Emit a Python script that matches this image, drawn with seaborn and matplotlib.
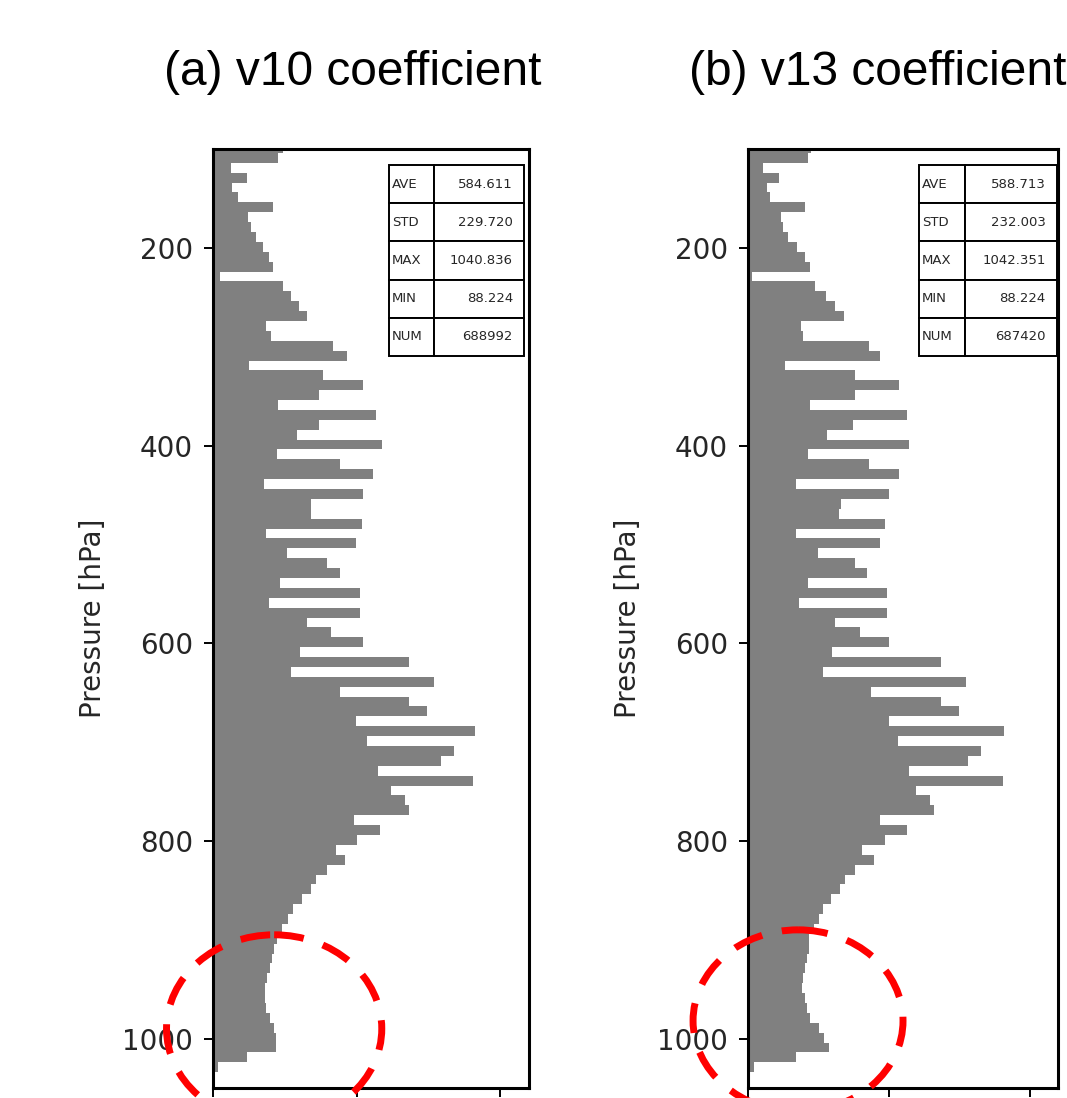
import matplotlib
matplotlib.use("Agg")
import matplotlib.pyplot as plt
from matplotlib.patches import Ellipse
import seaborn as sns
import pandas as pd

# pressure bin centres [hPa], 10 hPa bins
levels = [99, 109, 119, 129, 139, 149, 159, 169, 179, 189,
          199, 209, 219, 229, 239, 249, 259, 269, 279, 289,
          299, 309, 319, 329, 339, 349, 359, 369, 379, 389,
          399, 409, 419, 429, 439, 449, 459, 469, 479, 489,
          499, 509, 519, 529, 539, 549, 559, 569, 579, 589,
          599, 609, 619, 629, 639, 649, 659, 669, 679, 689,
          699, 709, 719, 729, 739, 749, 759, 769, 779, 789,
          799, 809, 819, 829, 839, 849, 859, 869, 879, 889,
          899, 909, 919, 929, 939, 949, 959, 969, 979, 989,
          999, 1009, 1019, 1029]

counts_v10 = [4860, 4510, 1250, 2360, 1320, 1740, 4170, 2430, 2640, 2990,
              3470, 3890, 4170, 490, 4860, 5420, 5970, 6530, 3680, 4030,
              8330, 9310, 2500, 7640, 10420, 7360, 4510, 11320, 7360, 5830,
              11740, 4440, 8820, 11110, 3540, 10420, 6810, 6810, 10350, 3680,
              9930, 5140, 7920, 8820, 4650, 10210, 3890, 10210, 6530, 8190,
              10420, 6040, 13610, 5420, 15350, 8820, 13610, 14860, 9930, 18260,
              10690, 16740, 15900, 11460, 18120, 12360, 13330, 13610, 9790, 11600,
              10000, 8540, 9170, 7920, 7150, 6810, 6180, 5560, 5210, 4790,
              4440, 4240, 4100, 3960, 3750, 3610, 3610, 3680, 3960, 4240,
              4380, 4380, 2360, 350]

counts_v13 = [4460, 4220, 1050, 2180, 1340, 1530, 3990, 2350, 2460, 2810,
              3470, 3990, 4410, 280, 4740, 5510, 6140, 6800, 3750, 3870,
              8560, 9330, 2580, 7550, 10730, 7550, 4410, 11250, 7430, 5550,
              11370, 4270, 8600, 10730, 3400, 9960, 6570, 6450, 9730, 3400,
              9330, 4920, 7550, 8440, 4270, 9840, 3630, 9840, 6170, 7920,
              9960, 5910, 13710, 5270, 15470, 8720, 13710, 14950, 9980, 18170,
              10620, 16480, 15590, 11420, 18050, 11910, 12890, 13170, 9380, 11250,
              9730, 8080, 8930, 7550, 6850, 6520, 5860, 5320, 4990, 4690,
              4340, 4290, 4180, 4040, 3870, 3780, 3990, 4150, 4390, 4990,
              5390, 5740, 3350, 400]

stat_names = ["AVE", "STD", "MAX", "MIN", "NUM"]
stats_v10 = ["584.611", "229.720", "1040.836", "88.224", "688992"]
stats_v13 = ["588.713", "232.003", "1042.351", "88.224", "687420"]

titles = ["(a) v10 coefficient", "(b) v13 coefficient"]

sns.set_style("white")
plt.rcParams["font.family"] = ["DejaVu Sans"]

W, H = 1067, 1098
fig = plt.figure(figsize=(W / 100, H / 100), dpi=100)

# panel boxes in pixels: left, right, top, bottom
boxes = [(213.3, 529.0, 149.0, 1088.0), (748.3, 1058.3, 149.0, 1088.0)]
table_boxes = [(0.557, 0.983 - 0.2035, 0.4265, 0.2035),
               (0.552, 0.983 - 0.2035, 0.443, 0.2035)]
title_x = [352.5, 877.5]
circles = [(4240, 990, 15000, 190), (3530, 982, 14900, 184)]

for i, (counts, stats) in enumerate([(counts_v10, stats_v10), (counts_v13, stats_v13)]):
    df = pd.DataFrame({"pressure": levels, "count": counts})
    l, r, t, b = boxes[i]
    ax = fig.add_axes([l / W, 1 - b / H, (r - l) / W, (b - t) / H])
    sns.histplot(data=df, y="pressure", weights="count", binwidth=10,
                 binrange=(94, 1034), ax=ax,
                 color="#808080", alpha=1, linewidth=0, edgecolor="none")
    ax.set_ylim(1050, 100)
    ax.set_xlim(0, 22000)
    ax.set_xticks([0, 10000, 20000])
    ax.set_yticks([200, 400, 600, 800, 1000])
    ax.set_xlabel("")
    ax.set_ylabel("Pressure [hPa]", fontsize=20, color="#262626", labelpad=11)
    ax.tick_params(axis="both", direction="out", length=6.5, width=1.4,
                   pad=8, labelsize=20, colors="black", labelcolor="#262626",
                   left=True, bottom=True)
    # x tick labels fall below the cropped figure edge in the original
    ax.tick_params(axis="x", labelbottom=False)
    for sp in ax.spines.values():
        sp.set_visible(True)
        sp.set_color("black")
        sp.set_linewidth(2.2)

    tb = ax.table(cellText=[[n, v] for n, v in zip(stat_names, stats)],
                  colWidths=[0.33, 0.67], cellLoc="right",
                  bbox=list(table_boxes[i]))
    tb.auto_set_font_size(False)
    tb.set_fontsize(9.5)
    for (row, col), cell in tb.get_celld().items():
        cell.set_linewidth(1.4)
        cell.set_edgecolor("black")
        cell.PAD = 0.06 if col == 0 else 0.12
        cell.get_text().set_ha("left" if col == 0 else "right")
        cell.get_text().set_color("#262626")

    cx, cy, cw, ch = circles[i]
    ax.add_patch(Ellipse((cx, cy), cw, ch, fill=False, edgecolor="red",
                         linewidth=5, linestyle=(0, (4.3, 2.9)),
                         clip_on=False, zorder=10))

    fig.text(title_x[i] / W, 1 - 85 / H, titles[i], ha="center", va="baseline",
             fontsize=34.5, family=["Liberation Sans", "DejaVu Sans"], color="black")

fig.savefig("out.png", dpi=100)
